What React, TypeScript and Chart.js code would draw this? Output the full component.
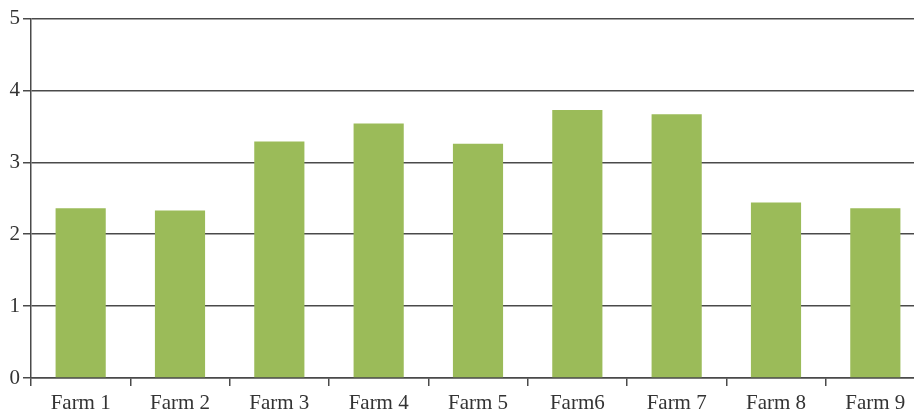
import React, { useEffect, useRef } from "react";
import { Chart, registerables } from "chart.js";

Chart.register(...registerables);

const categories = ["Farm 1", "Farm 2", "Farm 3", "Farm 4", "Farm 5", "Farm6", "Farm 7", "Farm 8", "Farm 9"];
const values = [2.36, 2.33, 3.29, 3.54, 3.26, 3.73, 3.67, 2.44, 2.36];
const yTicks = [0, 1, 2, 3, 4, 5];

export default function App() {
  const ref = useRef<HTMLCanvasElement | null>(null);

  useEffect(() => {
    document.documentElement.style.overflow = "hidden";
    if (!ref.current) return;
    const chart = new Chart(ref.current, {
      type: "bar",
      data: {
        labels: categories,
        datasets: [
          {
            data: values,
            backgroundColor: "#9BBB59",
            borderWidth: 0,
            categoryPercentage: 1,
            barPercentage: 0.505,
          },
        ],
      },
      options: {
        animation: false,
        responsive: false,
        maintainAspectRatio: false,
        layout: { padding: { top: 6, left: 0, right: 0, bottom: 0 } },
        plugins: { legend: { display: false }, tooltip: { enabled: false } },
        scales: {
          x: {
            offset: true,
            grid: {
              offset: true,
              drawOnChartArea: false,
              drawTicks: true,
              tickLength: 8,
              color: "#4a4a4a",
              lineWidth: 1.5,
            },
            border: { display: true, color: "#4a4a4a", width: 1.5 },
            ticks: {
              color: "#333333",
              font: { family: "'Liberation Serif', serif", size: 21 },
              padding: 5,
              maxRotation: 0,
              autoSkip: false,
            },
            afterFit: (scale: any) => {
              scale.height = 31;
            },
          },
          y: {
            min: 0,
            max: 5,
            afterBuildTicks: (scale: any) => {
              scale.ticks = yTicks.map((v) => ({ value: v }));
            },
            grid: {
              color: "#4a4a4a",
              lineWidth: 1.5,
              drawTicks: true,
              tickLength: 8,
            },
            border: { display: true, color: "#4a4a4a", width: 1.5 },
            ticks: {
              color: "#333333",
              font: { family: "'Liberation Serif', serif", size: 21 },
              padding: 3,
            },
            afterFit: (scale: any) => {
              scale.width = 23;
            },
          },
        },
      },
    });
    return () => chart.destroy();
  }, []);

  return (
    <div style={{ width: 917, height: 406, position: "fixed", left: 8, top: 3 }}>
      <canvas ref={ref} width={917} height={406} style={{ display: "block", width: 917, height: 406 }} />
    </div>
  );
}
